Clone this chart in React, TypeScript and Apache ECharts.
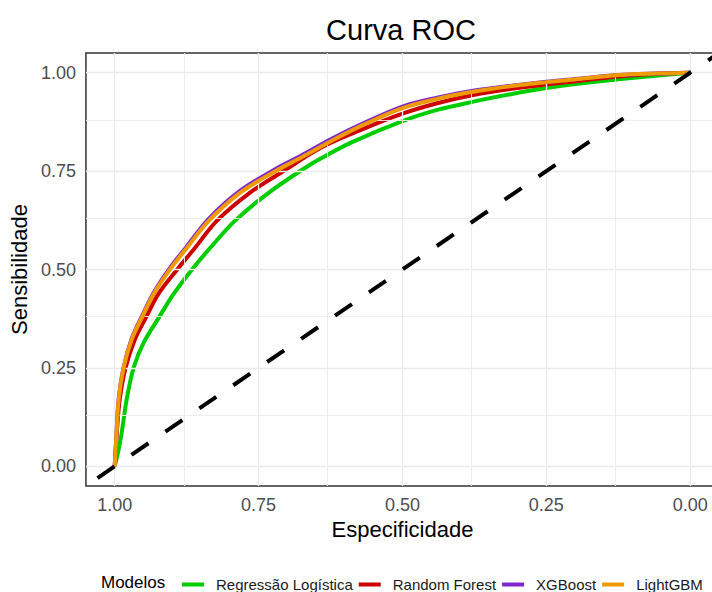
import React, { useEffect, useRef } from "react";
import * as echarts from "echarts";

// ---- data (specificity, sensitivity) ----
const modelNames = ["Regressão Logística", "Random Forest", "XGBoost", "LightGBM"];
const modelColors = ["#00CD00", "#CD0000", "#7D26CD", "#EE9A00"];

const rocLogistic: [number, number][] = [
  [1.0, 0.0], [0.9931, 0.043], [0.9878, 0.086], [0.9792, 0.17], [0.967, 0.251], [0.9497, 0.314],
  [0.9236, 0.377], [0.8976, 0.438], [0.8663, 0.499], [0.8316, 0.559], [0.7917, 0.623],
  [0.7361, 0.691], [0.6736, 0.754], [0.6406, 0.783], [0.5885, 0.823], [0.5, 0.877],
  [0.438, 0.906], [0.375, 0.927], [0.31, 0.946], [0.25, 0.961], [0.207, 0.97], [0.125, 0.983],
  [0.06, 0.992], [0.0, 1.0],
];
const rocRandomForest: [number, number][] = [
  [1.0, 0.0], [0.9965, 0.081], [0.9913, 0.17], [0.981, 0.251], [0.965, 0.322], [0.946, 0.377],
  [0.924, 0.438], [0.892, 0.499], [0.861, 0.554], [0.823, 0.623], [0.766, 0.694], [0.71, 0.747],
  [0.641, 0.81], [0.57, 0.856], [0.5, 0.896], [0.438, 0.923], [0.375, 0.944], [0.31, 0.959],
  [0.25, 0.97], [0.207, 0.977], [0.125, 0.99], [0.06, 0.997], [0.0, 1.0],
];
const rocXGBoost: [number, number][] = [
  [1.0, 0.0], [0.9965, 0.094], [0.9931, 0.171], [0.9844, 0.252], [0.9705, 0.324], [0.9531, 0.38],
  [0.9323, 0.441], [0.9045, 0.503], [0.875, 0.558], [0.837, 0.628], [0.783, 0.699], [0.722, 0.754],
  [0.675, 0.79], [0.623, 0.832], [0.57, 0.87], [0.5, 0.914], [0.438, 0.937], [0.375, 0.955],
  [0.31, 0.967], [0.25, 0.977], [0.207, 0.983], [0.125, 0.994], [0.06, 0.998], [0.0, 1.0],
];
const rocLightGBM: [number, number][] = [
  [1.0, 0.0], [0.9965, 0.094], [0.9931, 0.17], [0.9844, 0.251], [0.9705, 0.322], [0.9531, 0.377],
  [0.9323, 0.438], [0.9045, 0.499], [0.875, 0.554], [0.837, 0.623], [0.783, 0.694], [0.722, 0.749],
  [0.675, 0.785], [0.623, 0.827], [0.57, 0.866], [0.5, 0.91], [0.438, 0.934], [0.375, 0.952],
  [0.31, 0.966], [0.25, 0.976], [0.207, 0.982], [0.125, 0.994], [0.06, 0.998], [0.0, 1.0],
];
const rocData = [rocLogistic, rocRandomForest, rocXGBoost, rocLightGBM];

const majorTicks = [0, 0.25, 0.5, 0.75, 1];
const minorTicks = [0.125, 0.375, 0.625, 0.875];
const axisMin = -0.05;
const axisMax = 1.05;
const diagLine: [number, number][] = [[axisMax, axisMin], [axisMin, axisMax]];

const FONT = "'Liberation Sans', Arial, sans-serif";

export default function App() {
  const ref = useRef<HTMLDivElement>(null);
  useEffect(() => {
    if (!ref.current) return;
    const chart = echarts.init(ref.current, null, { renderer: "svg" });
    const gridColor = "#EBEBEB";
    const gridLines: any[] = [];
    majorTicks.forEach((v) => {
      gridLines.push({ xAxis: v, lineStyle: { color: gridColor, width: 1.3, type: "solid" } });
      gridLines.push({ yAxis: v, lineStyle: { color: gridColor, width: 1.3, type: "solid" } });
    });
    minorTicks.forEach((v) => {
      gridLines.push({ xAxis: v, lineStyle: { color: gridColor, width: 0.9, type: "solid" } });
      gridLines.push({ yAxis: v, lineStyle: { color: gridColor, width: 0.9, type: "solid" } });
    });
    const fmt = (v: number) => v.toFixed(2);
    const option: any = {
      animation: false,
      textStyle: { fontFamily: FONT },
      title: {
        text: "Curva ROC",
        left: 396,
        top: 10,
        textAlign: "center",
        textStyle: { fontSize: 29, fontWeight: "normal", color: "#000", fontFamily: FONT },
      },
      grid: {
        left: 84,
        top: 53,
        width: 635,
        height: 433,
        show: true,
        borderColor: "#333",
        borderWidth: 1.5,
        backgroundColor: "transparent",
      },
      xAxis: {
        type: "value",
        inverse: true,
        min: axisMin,
        max: axisMax,
        name: "Especificidade",
        nameLocation: "middle",
        nameGap: 30,
        nameTextStyle: { fontSize: 22, color: "#000", fontFamily: FONT },
        axisLine: { show: false },
        axisTick: { show: false, customValues: majorTicks },
        splitLine: { show: false },
        axisLabel: { customValues: majorTicks, formatter: fmt, fontSize: 18, color: "#4D4D4D", margin: 10, fontFamily: FONT },
      },
      yAxis: {
        type: "value",
        min: axisMin,
        max: axisMax,
        name: "Sensibilidade",
        nameLocation: "middle",
        nameGap: 53,
        nameTextStyle: { fontSize: 22, color: "#000", fontFamily: FONT },
        axisLine: { show: false },
        axisTick: { show: false, customValues: majorTicks },
        splitLine: { show: false },
        axisLabel: { customValues: majorTicks, formatter: fmt, fontSize: 18, color: "#4D4D4D", margin: 10, fontFamily: FONT },
      },
      legend: {
        data: modelNames,
        left: 177,
        top: 572,
        width: 536,
        padding: 5,
        icon: "rect",
        itemWidth: 22,
        itemHeight: 4,
        itemGap: 6,
        selectedMode: false,
        textStyle: { fontSize: 15, color: "#1a1a1a", padding: [0, 0, 0, 7], fontFamily: FONT },
      },
      graphic: [
        {
          type: "text",
          x: 101,
          y: 582,
          style: { text: "Modelos", fontSize: 17, fill: "#000", verticalAlign: "middle", fontFamily: FONT },
        },
      ],
      series: [
        {
          type: "line",
          data: [],
          silent: true,
          z: 1,
          markLine: {
            silent: true,
            symbol: ["none", "none"],
            label: { show: false },
            animation: false,
            data: gridLines,
          },
        },
        ...rocData.map((d, i) => ({
          type: "line",
          name: modelNames[i],
          data: d,
          symbol: "none",
          showSymbol: false,
          smooth: 0.35,
          z: 3 + i,
          lineStyle: { width: 4, color: modelColors[i] },
          itemStyle: { color: modelColors[i] },
        })),
        {
          type: "line",
          data: diagLine,
          symbol: "none",
          silent: true,
          z: 10,
          lineStyle: { color: "#000", width: 4, type: [20.5, 20.6], dashOffset: 27 },
        },
      ],
    };
    chart.setOption(option);
    return () => chart.dispose();
  }, []);
  return (
    <div style={{ position: "fixed", left: 0, top: 0, width: 712, height: 592, overflow: "hidden", background: "#fff" }}>
      <div ref={ref} style={{ width: 720, height: 592 }} />
    </div>
  );
}
